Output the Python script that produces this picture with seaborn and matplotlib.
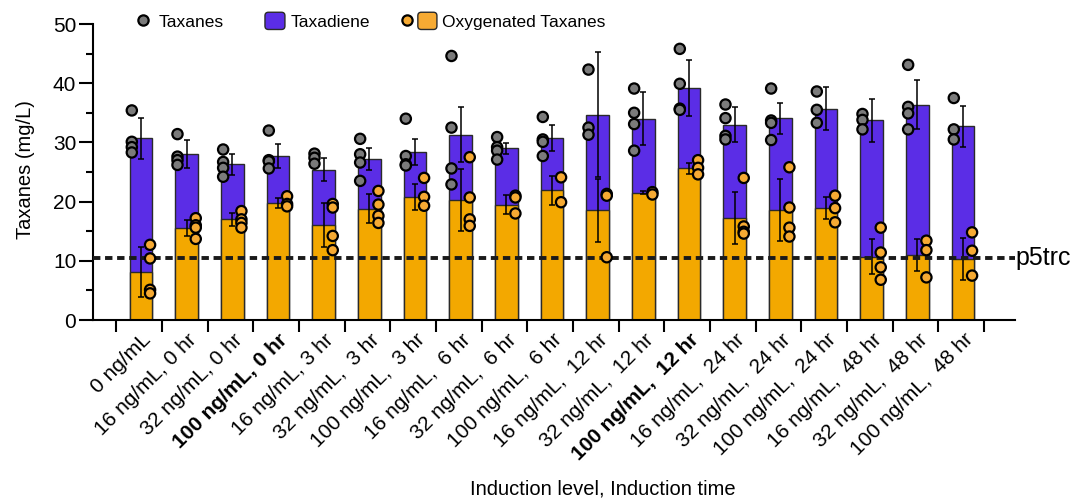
import numpy as np
import pandas as pd
import matplotlib
matplotlib.use("Agg")
import matplotlib.pyplot as plt
import matplotlib.transforms as mtransforms
from matplotlib.lines import Line2D
from matplotlib.patches import Patch, FancyBboxPatch
from matplotlib.legend_handler import HandlerPatch, HandlerTuple
import seaborn as sns

# induction conditions (x categories)
labels = [
    "0 ng/mL",
    "16 ng/mL, 0 hr",
    "32 ng/mL, 0 hr",
    "100 ng/mL, 0 hr",
    "16 ng/mL, 3 hr",
    "32 ng/mL,  3 hr",
    "100 ng/mL,  3 hr",
    "16 ng/mL,  6 hr",
    "32 ng/mL,  6 hr",
    "100 ng/mL,  6 hr",
    "16 ng/mL,  12 hr",
    "32 ng/mL,  12 hr",
    "100 ng/mL,  12 hr",
    "16 ng/mL,  24 hr",
    "32 ng/mL,  24 hr",
    "100 ng/mL,  24 hr",
    "16 ng/mL,  48 hr",
    "32 ng/mL,  48 hr",
    "100 ng/mL,  48 hr",
]
bold_labels = ["100 ng/mL, 0 hr", "100 ng/mL,  12 hr"]

# total taxanes (bar top) and oxygenated taxanes (orange part), mean and SD
total_mean = [30.7, 28.0, 26.3, 27.7, 25.4, 27.2, 28.4, 31.3, 29.0, 30.7,
              34.7, 34.0, 39.2, 33.0, 34.1, 35.7, 33.7, 36.4, 32.7]
total_sd = [3.45, 2.35, 1.8, 2.05, 2.0, 1.9, 2.2, 4.65, 0.95, 2.2,
            10.55, 4.5, 4.8, 2.95, 2.6, 3.65, 3.6, 4.1, 3.45]
oxy_mean = [8.1, 15.6, 17.0, 19.7, 16.1, 18.8, 20.7, 20.2, 19.5, 21.9,
            18.5, 21.5, 25.6, 17.3, 18.6, 18.9, 10.7, 11.0, 10.3]
oxy_sd = [4.15, 1.35, 1.05, 0.85, 3.7, 2.4, 2.2, 5.25, 1.6, 2.4,
          5.4, 0.3, 0.95, 4.4, 5.25, 1.85, 2.9, 2.65, 3.5]

# individual replicates
taxane_points = [
    [35.4, 30.1, 29.2, 28.3], [31.4, 27.6, 27.0, 26.2], [28.8, 26.7, 25.7, 24.2],
    [32.0, 27.0, 26.8, 25.6], [28.1, 27.4, 26.4], [30.6, 28.0, 26.6, 23.5],
    [34.0, 27.7, 26.3, 26.1], [44.6, 32.5, 25.6, 22.9], [30.9, 29.2, 28.6, 27.1],
    [34.3, 30.5, 30.1, 27.7], [42.3, 32.5, 31.3], [39.1, 35.0, 33.1, 28.6],
    [45.8, 39.9, 35.7, 35.5], [36.4, 34.1, 31.1, 30.5], [39.1, 33.7, 33.3, 30.4],
    [38.6, 35.5, 33.3], [34.8, 33.8, 32.2], [43.1, 36.0, 34.9, 32.2],
    [37.5, 32.2, 30.5],
]
oxy_points = [
    [12.7, 10.4, 5.1, 4.5], [17.2, 16.0, 15.6, 13.7], [18.4, 17.0, 16.4, 15.6],
    [20.9, 19.6, 19.2], [19.6, 19.0, 14.2, 11.8], [21.8, 19.5, 17.6, 16.4],
    [24.0, 20.8, 19.3], [27.5, 20.7, 17.0, 15.9], [21.0, 20.7, 18.0],
    [24.1, 19.9], [21.3, 21.0, 10.6], [21.6, 21.2],
    [27.0, 25.7, 24.6], [24.0, 15.8, 14.9, 14.6], [25.8, 19.0, 15.6, 14.1],
    [21.0, 18.9, 16.5], [15.6, 11.4, 8.9, 6.8], [13.4, 11.8, 7.2],
    [14.8, 11.7, 7.5],
]
p5trc_level = 10.4

purple = "#5B2DE6"
orange_bar = "#F3A800"
orange_dot = "#F6AA33"
grey_dot = "#7B7B7B"
edge = "#2a2a2a"

rows = []
for lab, vals in zip(labels, taxane_points):
    for v in vals:
        rows.append((lab, "Taxanes", v))
for lab, vals in zip(labels, oxy_points):
    for v in vals:
        rows.append((lab, "Oxygenated Taxanes", v))
points = pd.DataFrame(rows, columns=["condition", "kind", "value"])

sns.set_style("ticks", rc={"text.color": "black", "axes.labelcolor": "black",
                           "xtick.color": "black", "ytick.color": "black",
                           "axes.edgecolor": "black"})
plt.rcParams["font.family"] = ["Liberation Sans", "DejaVu Sans"]

fig = plt.figure(figsize=(10.75, 5), dpi=100)
ax = fig.add_axes([93 / 1075, 0.36, 922 / 1075, 0.592])

# stacked look: total bar in purple, oxygenated part drawn over it in orange
sns.barplot(x=labels, y=total_mean, order=labels, color=purple, width=0.5,
            saturation=1, edgecolor=edge, linewidth=1, errorbar=None, ax=ax, zorder=1)
sns.barplot(x=labels, y=oxy_mean, order=labels, color=orange_bar, width=0.5,
            saturation=1, edgecolor=edge, linewidth=1, errorbar=None, ax=ax, zorder=1.1)

pos = np.arange(len(labels))
ax.errorbar(pos, total_mean, yerr=total_sd, fmt="none", ecolor="black",
            elinewidth=1.1, capsize=2.5, capthick=1.1, zorder=3)
ax.errorbar(pos, oxy_mean, yerr=oxy_sd, fmt="none", ecolor="black",
            elinewidth=1.1, capsize=2.5, capthick=1.1, zorder=3)

ax.axhline(p5trc_level, color="#1a1a1a", lw=2.8, dashes=(1.9, 1.2), zorder=3.5)
ax.text(1.001, p5trc_level, "p5trc", transform=ax.get_yaxis_transform(),
        fontsize=18, va="center", ha="left")

sns.stripplot(data=points, x="condition", y="value", hue="kind", order=labels,
              hue_order=["Taxanes", "Oxygenated Taxanes"],
              palette=[grey_dot, orange_dot], dodge=True, jitter=False,
              size=7.4, edgecolor="black", linewidth=1.6, legend=False,
              ax=ax, zorder=5)

# axes
ax.set_ylim(0, 50)
ax.set_xlim(-1.05, 19.14)
ax.set_yticks(range(0, 51, 10))
ax.set_yticks(np.arange(5, 50, 10), minor=True)
ax.set_xticks(pos)
ax.set_xticks(np.arange(len(labels) + 1) - 0.54, minor=True)
ax.set_xticklabels(labels, rotation=45, ha="right", va="center",
                   rotation_mode="anchor")
ax.tick_params(axis="x", which="major", length=0, pad=12, labelsize=15)
ax.tick_params(axis="x", which="minor", length=8.6, width=1.5)
ax.tick_params(axis="y", which="major", length=10, width=1.5, labelsize=15, pad=2)
ax.tick_params(axis="y", which="minor", length=5, width=1.5)
for s in ["left", "bottom"]:
    ax.spines[s].set_linewidth(1.5)
sns.despine(ax=ax)

offset = mtransforms.ScaledTranslation(5 / 72, 0, fig.dpi_scale_trans)
for t in ax.get_xticklabels():
    if t.get_text() in bold_labels:
        t.set_fontweight("bold")
    t.set_transform(t.get_transform() + offset)

ax.set_ylabel("Taxanes (mg/L)", fontsize=14.5)
ax.yaxis.set_label_coords(-0.063, 0.507)
ax.set_xlabel("Induction level, Induction time", fontsize=14.5)
ax.xaxis.set_label_coords(0.553, -0.54)


# legend
def rounded_box(legend, orig_handle, xdescent, ydescent, width, height, fontsize):
    return FancyBboxPatch((-xdescent, -ydescent), width, height,
                          boxstyle="round,pad=0,rounding_size=2.5")


box_handler = HandlerPatch(patch_func=rounded_box)
grey_handle = Line2D([], [], marker="o", ls="none", markersize=7.4,
                     markerfacecolor=grey_dot, markeredgecolor="black",
                     markeredgewidth=1.6)
purple_handle = Patch(facecolor=purple, edgecolor=edge, linewidth=1)
orange_dot_handle = Line2D([], [], marker="o", ls="none", markersize=7.4,
                           markerfacecolor=orange_dot, markeredgecolor="black",
                           markeredgewidth=1.6)
orange_box_handle = Patch(facecolor=orange_dot, edgecolor=edge, linewidth=1)

leg1 = ax.legend([grey_handle, purple_handle], ["Taxanes", "Taxadiene"], ncol=2,
                 loc="center left", bbox_to_anchor=(133 / 1075, 1 - 21 / 500),
                 bbox_transform=fig.transFigure, frameon=False, fontsize=12.5,
                 handlelength=1.15, handleheight=1.15, handletextpad=0.3,
                 columnspacing=2.4, borderpad=0, borderaxespad=0,
                 handler_map={Patch: box_handler})
ax.add_artist(leg1)
ax.legend([(orange_dot_handle, orange_box_handle)], ["Oxygenated Taxanes"],
          loc="center left", bbox_to_anchor=(397 / 1075, 1 - 21 / 500),
          bbox_transform=fig.transFigure, frameon=False, fontsize=12.5,
          handlelength=2.3, handleheight=1.15, handletextpad=0.3,
          borderpad=0, borderaxespad=0,
          handler_map={tuple: HandlerTuple(ndivide=None, pad=0.1), Patch: box_handler})

fig.savefig("out.png", dpi=100)
